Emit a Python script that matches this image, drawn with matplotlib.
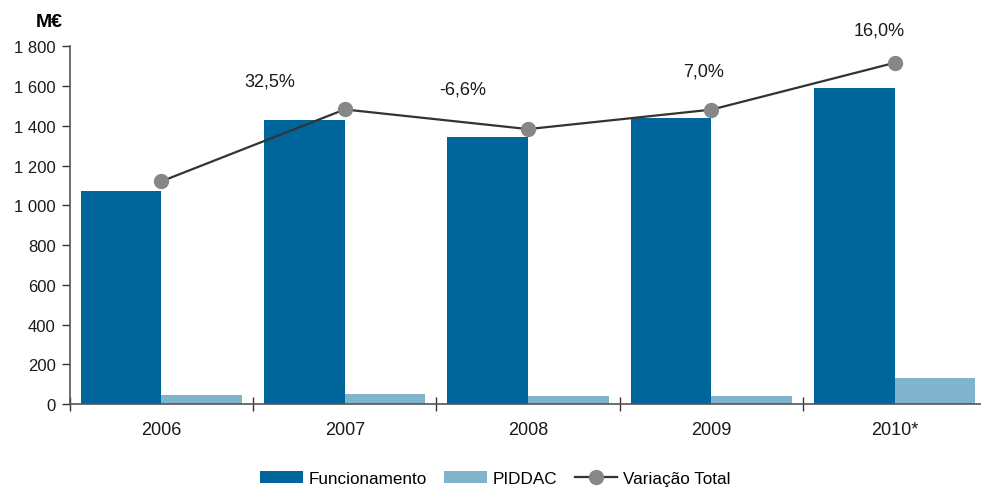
import matplotlib.pyplot as plt
from matplotlib.ticker import FuncFormatter

plt.rcParams['font.family'] = ['Liberation Sans', 'DejaVu Sans']

# data
years = ["2006", "2007", "2008", "2009", "2010*"]
funcionamento = [1071, 1428, 1342, 1440, 1589]
piddac = [47, 52, 42, 41, 132]
total = [1121, 1483, 1384, 1482, 1718]
variacao = ["", "32,5%", "-6,6%", "7,0%", "16,0%"]

# label placement (x in category units, y in M€)
label_pos = [None, (0.593, 1624), (1.646, 1584), (2.955, 1679), (3.915, 1885)]

c_func = "#00659a"
c_pid = "#80b3cc"
txt = "#1a1a1a"

fig = plt.figure(figsize=(9.81, 4.89), dpi=100)
ax = fig.add_axes([0.071, 0.1718, 0.929, 0.7311])

x = list(range(len(years)))
w = 0.44
b1 = ax.bar([i - w / 2 for i in x], funcionamento, width=w, color=c_func, label="Funcionamento", zorder=2)
b2 = ax.bar([i + w / 2 for i in x], piddac, width=w, color=c_pid, label="PIDDAC", zorder=2)
l1, = ax.plot(x, total, color="#333333", lw=1.6, marker="o", ms=10, mfc="#878787", mec="#878787",
              label="Variação Total", zorder=3)

for lab, pos in zip(variacao, label_pos):
    if pos is None:
        continue
    ax.text(pos[0], pos[1], lab, ha="center", va="center", fontsize=13, color=txt)

ax.set_xlim(-0.5, 4.47)
ax.set_ylim(0, 1800)
ax.set_yticks(range(0, 1801, 200))
ax.yaxis.set_major_formatter(FuncFormatter(lambda v, p: f"{int(v):,}".replace(",", " ")))
ax.tick_params(axis="y", direction="out", length=6, width=1, color="#333333",
               labelsize=12, labelcolor=txt, pad=4)

ax.set_xticks([-0.5, 0.5, 1.5, 2.5, 3.5])
ax.set_xticklabels([])
ax.tick_params(axis="x", which="major", direction="inout", length=10, width=1, color="#333333")
ax.set_xticks(x, minor=True)
ax.set_xticklabels(years, minor=True)
ax.tick_params(axis="x", which="minor", length=0, labelsize=13, labelcolor=txt, pad=12)

for s in ["top", "right"]:
    ax.spines[s].set_visible(False)
for s in ["left", "bottom"]:
    ax.spines[s].set_color("#555555")
    ax.spines[s].set_linewidth(1.2)

fig.text(0.0505, 0.953, "M€", fontsize=14, fontweight="bold", ha="center", va="center")

fig.legend(handles=[b1, b2, l1], loc="center", bbox_to_anchor=(0.505, 0.02), ncol=3,
           frameon=False, fontsize=12.3, handlelength=2.5, handleheight=0.75,
           columnspacing=1.0, handletextpad=0.35, borderaxespad=0)

fig.savefig("out.png", dpi=100)
